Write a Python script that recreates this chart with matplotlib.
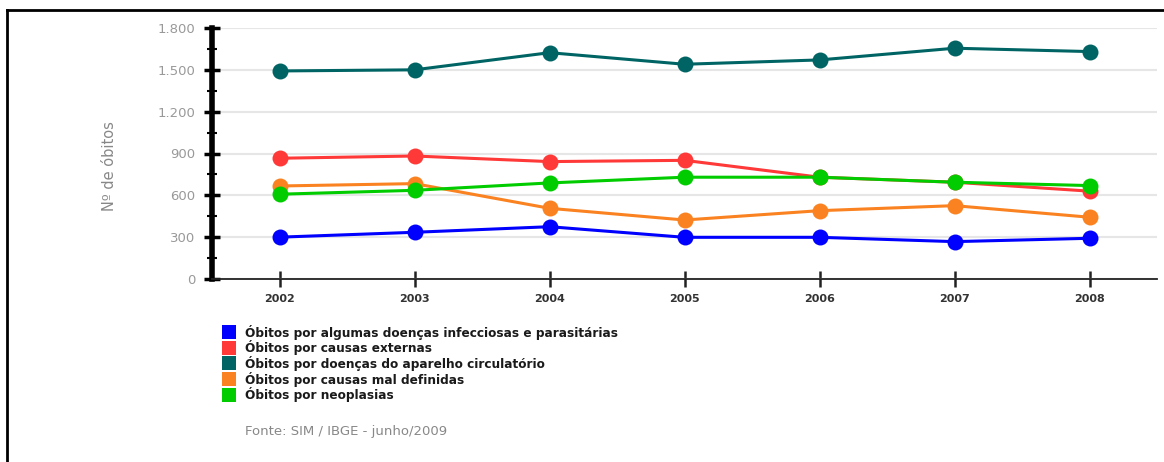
import matplotlib
matplotlib.use("Agg")
import matplotlib.pyplot as plt
from matplotlib.patches import Rectangle
from matplotlib.lines import Line2D
from matplotlib.ticker import FuncFormatter, MultipleLocator

years = [2002, 2003, 2004, 2005, 2006, 2007, 2008]
infecciosas = [300, 335, 375, 299, 299, 268, 292]
externas = [866, 882, 842, 851, 730, 694, 630]
circulatorio = [1492, 1500, 1623, 1540, 1571, 1655, 1631]
mal_definidas = [667, 684, 507, 423, 490, 526, 443]
neoplasias = [608, 636, 689, 730, 730, 694, 670]

labels = [
    "Óbitos por algumas doenças infecciosas e parasitárias",
    "Óbitos por causas externas",
    "Óbitos por doenças do aparelho circulatório",
    "Óbitos por causas mal definidas",
    "Óbitos por neoplasias",
]
series = [infecciosas, externas, circulatorio, mal_definidas, neoplasias]
colors = ["#0000ff", "#ff3838", "#006464", "#fa8220", "#00cc00"]

W, H = 1164, 462
fig = plt.figure(figsize=(W / 100, H / 100), dpi=100)
fig.patch.set_facecolor("white")

def fx(px):
    return px / W

def fy(py):
    return 1 - py / H

ax = fig.add_axes([fx(212), fy(279), fx(1157) - fx(212), fy(28) - fy(279)])
ax.set_xlim(2001.5, 2008.5)
ax.set_ylim(0, 1800)

ax.yaxis.set_major_locator(MultipleLocator(300))
ax.yaxis.set_minor_locator(MultipleLocator(150))
ax.yaxis.set_major_formatter(FuncFormatter(lambda v, p: f"{int(v):,}".replace(",", ".")))
ax.grid(axis="y", which="major", color="#e6e6e6", linewidth=1.5, zorder=0)
ax.set_axisbelow(True)

for s in ["top", "right"]:
    ax.spines[s].set_visible(False)
ax.spines["left"].set_linewidth(4)
ax.spines["left"].set_color("black")
ax.spines["bottom"].set_linewidth(1.3)
ax.spines["bottom"].set_color("#222222")

ax.tick_params(axis="y", which="major", direction="inout", length=12, width=2.5,
               color="black", labelsize=9.5, labelcolor="#999999", pad=6)
ax.tick_params(axis="y", which="minor", direction="inout", length=7, width=1.5, color="black")
ax.set_xticks(years)
ax.set_xticklabels([str(y) for y in years])
ax.tick_params(axis="x", which="major", direction="inout", length=11, width=1.8,
               color="#222222", labelsize=8, labelcolor="#333333", pad=5)
for t in ax.get_xticklabels():
    t.set_fontweight("bold")

fig.text(fx(110), fy(166), "Nº de óbitos", fontsize=10.5, color="#888888",
         rotation=90, va="center", ha="center")

for vals, c in zip(series, colors):
    ax.plot(years, vals, color=c, linewidth=2.2, marker="o", markersize=11.5,
            markeredgewidth=0, solid_capstyle="round", zorder=3, clip_on=False)

# legend (manual)
y0 = 332
dy = 15.7
for i, (lab, c) in enumerate(zip(labels, colors)):
    yc = y0 + i * dy
    fig.patches.append(Rectangle((fx(222), fy(yc + 7)), fx(14), 14 / H,
                                 transform=fig.transFigure, facecolor=c,
                                 edgecolor="none"))
    fig.text(fx(245), fy(yc), lab, fontsize=8.7, color="#1a1a1a",
             va="center", ha="left", fontweight="bold")

fig.text(fx(245), fy(432), "Fonte: SIM / IBGE - junho/2009", fontsize=9.5,
         color="#888888", va="center", ha="left")

# outer frame (left and top edges)
fig.add_artist(Line2D([fx(7), fx(7)], [fy(10), 0], transform=fig.transFigure,
                      color="black", linewidth=2))
fig.add_artist(Line2D([fx(7), 1], [fy(10), fy(10)], transform=fig.transFigure,
                      color="black", linewidth=2))

fig.savefig("out.png", dpi=100)
